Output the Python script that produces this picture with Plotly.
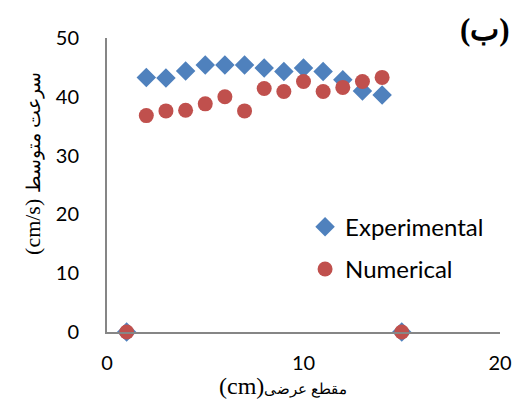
import plotly.graph_objects as go

x_exp = [1, 2, 3, 4, 5, 6, 7, 8, 9, 10, 11, 12, 13, 14, 15]
y_exp = [0, 43.3, 43.2, 44.4, 45.4, 45.4, 45.4, 44.9, 44.3, 44.9, 44.3, 42.9, 41.0, 40.3, 0]
x_num = [1, 2, 3, 4, 5, 6, 7, 8, 9, 10, 11, 12, 13, 14, 15]
y_num = [0, 36.8, 37.6, 37.7, 38.8, 40.0, 37.6, 41.4, 40.9, 42.6, 40.9, 41.6, 42.6, 43.3, 0]

x_ticks = [0, 10, 20]
y_ticks = [0, 10, 20, 30, 40, 50]

fig = go.Figure()
fig.add_trace(go.Scatter(x=x_exp, y=y_exp, mode="markers", name="Experimental",
                         legendgroup="a",
                         marker=dict(symbol="diamond", size=15, color="#4F81BD")))
fig.add_trace(go.Scatter(x=x_num, y=y_num, mode="markers", name="Numerical",
                         legendgroup="b",
                         marker=dict(symbol="circle", size=15, color="#C0504D")))

axis_font = dict(family="Lato, Open Sans, sans-serif", size=20, color="#000000")
serif = "Liberation Serif, DejaVu Serif, serif"
fig.update_layout(
    width=516, height=399,
    margin=dict(l=107, r=16, t=38, b=66.5),
    paper_bgcolor="white", plot_bgcolor="white",
    showlegend=True,
    legend=dict(x=0.504, y=0.433, xanchor="left", yanchor="top",
                font=dict(family="Lato, Open Sans, sans-serif", size=24, color="#000000"),
                bgcolor="rgba(0,0,0,0)", itemsizing="trace", traceorder="grouped",
                tracegroupgap=8),
    xaxis=dict(range=[0, 20], tickvals=x_ticks, showgrid=False, zeroline=False,
               showline=True, linecolor="#868686", linewidth=2, ticks="",
               tickfont=axis_font, automargin=False, ticklabelstandoff=12),
    yaxis=dict(range=[0, 50], tickvals=y_ticks, showgrid=False, zeroline=False,
               showline=True, linecolor="#868686", linewidth=2, ticks="",
               tickfont=axis_font, automargin=False, ticklabelstandoff=22),
)
fig.add_annotation(text="(cm)<span style='font-size:15px'>مقطع عرضی</span>",
                   xref="paper", yref="paper", x=0.448, y=-0.183,
                   xanchor="center", yanchor="middle", showarrow=False,
                   font=dict(family=serif, size=24, color="#000000"))
fig.add_annotation(text="(cm/s) <span style='font-size:19px'>سرعت متوسط</span>",
                   xref="paper", yref="paper", x=-0.188, y=0.572, textangle=-90,
                   xanchor="center", yanchor="middle", showarrow=False,
                   font=dict(family=serif, size=22, color="#000000"))
fig.add_annotation(text="<b>(ب)</b>", xref="paper", yref="paper", x=0.962, y=1.03,
                   xanchor="center", yanchor="middle", showarrow=False,
                   font=dict(family=serif, size=31, color="#000000"))
fig.update_traces(cliponaxis=False)
fig.write_html("out.html", config={"displayModeBar": False},
               post_script="document.body.style.margin='0';document.body.style.overflow='hidden';")
